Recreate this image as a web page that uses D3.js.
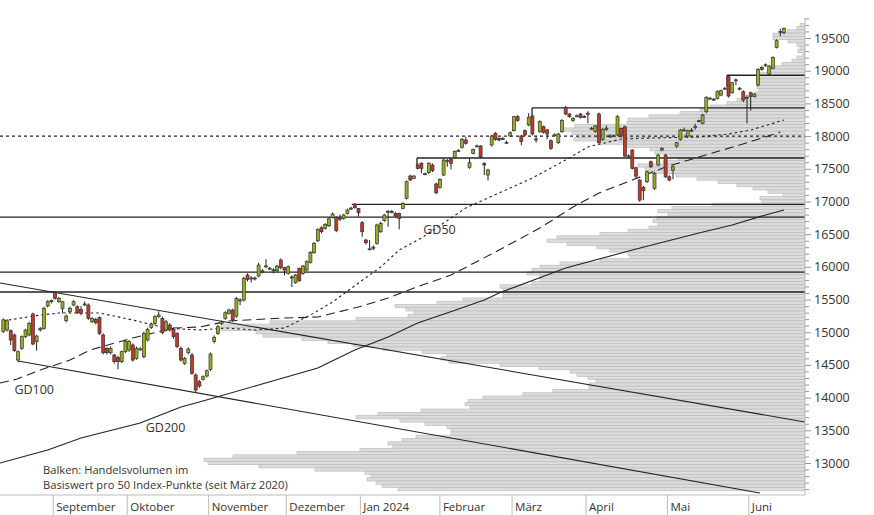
<!DOCTYPE html>
<html><head><meta charset="utf-8">
<script src="https://cdn.jsdelivr.net/npm/d3@7"></script>
<style>body{margin:0;background:#fff}text{font-family:"Open Sans",sans-serif;fill:#333}</style>
</head><body><svg id="c" width="874" height="515"></svg>
<script>
// ---- DATA ----
const candles = [
[15010,15210,14990,15190],[15035,15200,15010,15175],[15024,15040,14805,14881],[14958,14980,14700,14718],[14575,14720,14540,14702],
[14754,14950,14730,14932],[14932,15050,14910,15034],[14958,15160,14940,15136],[15279,15300,14800,14820],[14855,14960,14718,14942],
[15034,15080,15010,15059],[15059,15390,15040,15365],[15401,15490,15380,15467],[15467,15500,15440,15483],[15605,15630,15500,15518],
[15467,15540,15450,15518],[15365,15480,15290,15467],[15177,15270,15150,15248],[15314,15390,15290,15365],[15416,15490,15400,15467],
[15391,15410,15280,15299],[15350,15400,15260,15289],[15430,15470,15400,15432],[15416,15440,15190,15212],[15161,15230,15140,15212],
[15197,15220,15120,15146],[15223,15240,14960,14983],[14958,14980,14660,14687],[14754,14770,14660,14687],[14687,14780,14660,14754],
[14652,14670,14520,14550],[14616,14640,14432,14550],[14550,14720,14530,14702],[14702,14880,14680,14856],[14728,14880,14700,14856],
[14805,14830,14550,14575],[14600,14780,14580,14754],[14740,14770,14720,14745],[14626,15010,14600,14983],[14881,15070,14860,15044],
[15075,15150,15050,15126],[15136,15260,15110,15238],[15238,15320,15220,15264],[15212,15240,14970,14993],[15034,15190,15010,15161],
[15110,15140,15010,15034],[15044,15070,14900,14932],[14983,15000,14760,14779],[14754,14780,14550,14575],[14524,14620,14500,14600],
[14687,14770,14660,14743],[14652,14680,14350,14371],[14346,14370,14080,14116],[14244,14270,14150,14177],[14279,14340,14260,14320],
[14330,14430,14310,14411],[14432,14690,14410,14667],[14856,14950,14830,14922],[14983,15110,14960,15085],[15136,15180,15110,15161],
[15212,15320,15190,15299],[15289,15360,15270,15340],
[15339,15360,15160,15186],[15247,15540,15220,15517],[15485,15520,15415,15495],[15492,15850,15470,15824],[15875,15900,15780,15808],
[15820,15860,15760,15830],[15830,15850,15790,15822],[15859,16060,15840,16027],[15930,15970,15900,15940],[16005,16115,15980,16015],
[15975,16000,15950,15980],[15950,15980,15900,15955],[15941,16030,15920,16012],[16104,16130,15960,15987],[15987,16000,15870,15951],
[15900,16020,15880,16002],[15845,15870,15690,15835],[15757,15890,15740,15875],[15977,15990,15770,15788],[15900,16030,15880,16012],
[15951,16100,15930,16079],[16068,16240,16050,16221],[16216,16380,16200,16359],[16400,16590,16380,16573],[16599,16620,16510,16538],
[16589,16670,16570,16650],[16629,16750,16610,16736],[16757,16830,16740,16808],[16757,16770,16530,16553],[16745,16800,16700,16740],
[16742,16810,16720,16793],[16818,16890,16800,16869],[16890,16920,16870,16898],[16956,16975,16890,16905],[16894,16900,16767,16828],
[16675,16700,16460,16537],[16410,16430,16340,16369],[16275,16410,16260,16268],[16300,16330,16255,16298],[16359,16660,16340,16640],
[16537,16690,16520,16665],[16706,16810,16690,16793],[16840,16870,16614,16848],[16845,16870,16820,16842],[16818,16840,16760,16777],
[16818,16830,16573,16742],[16894,16990,16880,16971],
[17048,17320,17030,17303],[17389,17410,17310,17328],[17353,17400,17340,17389],[17557,17580,17490,17506],[17583,17600,17430,17507],
[17425,17440,17400,17418],[17440,17600,17420,17583],[17557,17580,17450,17471],[17267,17290,17110,17134],[17216,17355,17195,17338],
[17404,17650,17390,17634],[17620,17650,17530,17628],[17644,17660,17490,17583],[17675,17780,17660,17762],[17775,17800,17760,17780],
[17828,17970,17810,17950],[17940,17990,17870,17889],[17522,17650,17500,17593],[17736,17810,17720,17797],[17845,17870,17830,17850],
[17848,17860,17660,17685],[17583,17600,17405,17557],[17405,17500,17320,17481],[17863,18020,17840,18001],[18042,18060,17930,17950],
[17966,17980,17920,17940],[17965,17990,17940,17962],[17900,17930,17880,17905],[18001,18070,17990,18052],[18083,18310,18070,18297],
[18297,18320,18220,18236],[18001,18020,17860,17915],[18083,18100,18000,18017],[18169,18350,18150,18287],[18307,18320,18010,18032],
[17955,18000,17900,17948],[18067,18240,18050,18221],[18144,18160,18040,18058],[18093,18110,17950,18032],[17930,17950,17790,17812],
[18015,18040,18000,18020],[17899,18050,17880,18032],[18067,18260,18050,18236],[18440,18460,18320,18338],[18338,18350,18280,18297],
[18236,18290,18220,18271],[18305,18330,18290,18310],[18338,18350,18270,18287],[18300,18320,18280,18295],[18350,18380,18195,18345],
[18120,18140,18100,18115],[18068,18170,18050,18154],[18338,18360,17880,17899],[17950,18120,17930,18103],[18115,18160,18080,18120],
[18003,18030,17970,18000],[18000,18020,17990,18005],[18017,18320,18000,18297],
[18117,18130,17980,18000],[18143,18160,17680,17694],[17690,17720,17670,17698],[17786,17800,17490,17506],[17516,17530,17360,17388],
[17327,17340,16995,17021],[17215,17240,17020,17164],[17302,17470,17280,17455],[17608,17625,17510,17531],[17200,17450,17180,17430],
[17557,17730,17540,17710],[17786,17830,17770,17812],[17710,17730,17360,17378],[17378,17400,17310,17327],[17480,17550,17340,17531],
[17847,17910,17820,17898],[17950,18110,17930,18092],[18090,18130,18070,18095],[18000,18100,17980,18082],[18092,18120,18060,18090],
[18140,18190,18100,18145],[18235,18250,18210,18220],[18194,18340,18180,18322],[18373,18610,18350,18592],[18575,18600,18560,18580],
[18565,18580,18540,18560],[18576,18700,18560,18679],[18628,18710,18610,18694],[18728,18750,18710,18732],[18908,18920,18590,18612],
[18663,18830,18650,18816],[18855,18880,18780,18860],[18732,18750,18700,18728],[18679,18700,18520,18551],[18595,18630,18194,18590],
[18663,18680,18390,18602],[18602,18660,18590,18643],[18780,19040,18760,19020],[19051,19070,19000,19020],[19085,19110,19060,19090],
[18949,19090,18930,19071],[19036,19220,19020,19204],[19357,19480,19340,19459],[19595,19640,19530,19600],[19581,19660,19560,19648]
];
// moving averages: [trading-day index, value]
const gd50 = [[0,15172],[8,15248],[15,15294],[26,15294],[35,15187],[44,15064],[53,15034],[60,15064],[68,15034],[76,15064],[83,15263],[89,15462],[96,15753],[102,15997],[107,16257],[113,16441],[125,16900],[134,17130],[143,17359],[152,17634],[158,17833],[167,17955],[175,17970],[188,17986],[196,18032],[202,18093],[211,18246]];
const gd100 = [[-0.9,14223],[3.7,14284],[10,14422],[18,14575],[23.5,14728],[35,14912],[46,15064],[53,15080],[61,15172],[76,15217],[85,15233],[96,15386],[104,15523],[111,15676],[121,15875],[134,16257],[145,16594],[154,16915],[161,17129],[170,17328],[179,17527],[188,17680],[199,17863],[210,18062]];
const gd200 = [[-0.9,13000],[12,13199],[21,13382],[37,13612],[48,13856],[53,13933],[69,14193],[85,14453],[95,14728],[104,14927],[112,15141],[121.5,15324],[130,15493],[134,15600],[152,15982],[170,16257],[188,16518],[197,16640],[206,16793],[211,16869]];
// volume profile, levels 19700 .. 12600 every 50 points
const volLevels = d3.range(19700, 12550, -50);
const volumes = [5,8,18,32,32,17,8,5,7,2,8,13,23,32,37,45,46,46,48,48,46,50,50,
68,78,95,105,125,156,177,178,230,242,233,227,231,205,178,155,150,135,127,142,167,160,157,129,108,87,68,52,37,22,45,43,
93,133,147,137,148,152,147,156,177,205,248,258,238,208,195,177,175,205,245,265,273,278,265,265,273,305,302,302,302,
342,368,410,399,391,397,449,535,584,584,549,542,503,477,452,422,383,358,364,356,305,266,235,228,217,209,216,216,252,282,
322,337,340,335,384,427,449,405,380,358,354,354,389,403,417,412,445,508,572,601,597,546,490,440,434,438,429,423,407];
const levelLines = [[142.9,18430,18307],[111.8,17665,17557],[94.2,16955,null],[195.6,18930,18755]];
const fullLines = [16760,15920,15615];
const dottedLine = 18000;
const trendLines = [[[-0.9,15753],[216.7,13627]],[[4,14560],[204.5,12541]]];
const monthTicks = [["September",13.5],["Oktober",33.5],["November",55.5],["Dezember",76.5],["Jan 2024",96.5],["Februar",118],["März",137.5],["April",157.5],["Mai",179.5],["Juni",201.5]];
const yTicks = [13000,13500,14000,14500,15000,15500,16000,16500,17000,17500,18000,18500,19000,19500];
const maLabels = [["GD50",16500,113.5],["GD100",14055,3],["GD200",13480,38.5]];

// ---- CHART ----
const svg = d3.select("#c");
const R = 805, T = 18, B = 495;
const x = d3.scaleLinear().domain([0, 211]).range([3.3, 3.3 + 211*3.7]);
const y = d3.scaleLinear().domain([13000, 19500]).range([463, 38]);
const vx = d3.scaleLinear().domain([0, 100]).range([0, 100]);
svg.append("clipPath").attr("id","pc").append("rect").attr("x",0).attr("y",T).attr("width",R).attr("height",B-T);
const g = svg.append("g").attr("clip-path","url(#pc)");
const bh = y(0) - y(50);
g.selectAll("rect.v").data(volLevels).join("rect")
  .attr("x", (d,i)=>R - vx(volumes[i])).attr("y", d=>y(d)-bh/2).attr("width",(d,i)=>vx(volumes[i])).attr("height",bh)
  .attr("fill","#dcdcdc").attr("stroke","#bdbdbd").attr("stroke-width",0.7);
fullLines.forEach(v=>g.append("line").attr("x1",0).attr("x2",R).attr("y1",y(v)).attr("y2",y(v)).attr("stroke","#222").attr("stroke-width",1.3));
levelLines.forEach(([i,v,v2])=>{
  g.append("line").attr("x1",x(i)).attr("x2",R).attr("y1",y(v)).attr("y2",y(v)).attr("stroke","#222").attr("stroke-width",1.3);
  if(v2) g.append("line").attr("x1",x(i)).attr("x2",x(i)).attr("y1",y(v)).attr("y2",y(v2)).attr("stroke","#222").attr("stroke-width",1.3);
});
g.append("line").attr("x1",0).attr("x2",R).attr("y1",y(dottedLine)).attr("y2",y(dottedLine)).attr("stroke","#222").attr("stroke-dasharray","3,3").attr("stroke-width",1.2);
const ln = d3.line().x(d=>x(d[0])).y(d=>y(d[1]));
trendLines.forEach(t=>g.append("path").attr("d",ln(t)).attr("fill","none").attr("stroke","#222").attr("stroke-width",1.1));
g.append("path").attr("d",ln(gd200)).attr("fill","none").attr("stroke","#222").attr("stroke-width",1.1);
g.append("path").attr("d",ln(gd100)).attr("fill","none").attr("stroke","#222").attr("stroke-width",1.1).attr("stroke-dasharray","9,5");
g.append("path").attr("d",ln(gd50)).attr("fill","none").attr("stroke","#222").attr("stroke-width",1.1).attr("stroke-dasharray","2.5,3");
const cg = g.append("g");
candles.forEach((c,i)=>{
  const [o,h,l,cl]=c, xc = x(i);
  cg.append("line").attr("x1",xc).attr("x2",xc).attr("y1",y(h)).attr("y2",y(l)).attr("stroke","#222").attr("stroke-width",1);
  const top = y(Math.max(o,cl)), bot = y(Math.min(o,cl));
  cg.append("rect").attr("x",xc-1.5).attr("width",3).attr("y",top).attr("height",Math.max(1,bot-top))
    .attr("fill", cl>=o ? "#9aad1c" : "#c0392b").attr("stroke","#333").attr("stroke-width",0.7);
});
maLabels.forEach(([t,v,i])=>svg.append("text").attr("x",x(i)).attr("y",y(v)).attr("font-size",12.5).text(t));
svg.append("text").attr("x",43).attr("y",474).attr("font-size",11.2).text("Balken: Handelsvolumen im");
svg.append("text").attr("x",43).attr("y",489).attr("font-size",11.2).text("Basiswert pro 50 Index-Punkte (seit März 2020)");
const ya = svg.append("g").attr("transform",`translate(${R},0)`)
  .call(d3.axisRight(y).tickValues(d3.range(12600,19801,100)).tickSize(4).tickFormat(d=>yTicks.includes(d)?d:""));
ya.select(".domain").attr("stroke","#bbb").attr("d",`M0,${T}V${B}`);
ya.selectAll(".tick line").attr("stroke","#999").attr("x2",d=>yTicks.includes(d)?6:4);
ya.selectAll("text").attr("font-size",12.5).attr("x",9).style("font-family","Open Sans").attr("fill","#333");
svg.append("line").attr("x1",0).attr("x2",R).attr("y1",B).attr("y2",B).attr("stroke","#bbb");
const xa = svg.append("g");
monthTicks.forEach(([t,i])=>{
  xa.append("line").attr("x1",x(i)).attr("x2",x(i)).attr("y1",B).attr("y2",515).attr("stroke","#bbb");
  xa.append("text").attr("x",x(i)+3).attr("y",511).attr("font-size",11.5).text(t);
});
</script></body></html>
